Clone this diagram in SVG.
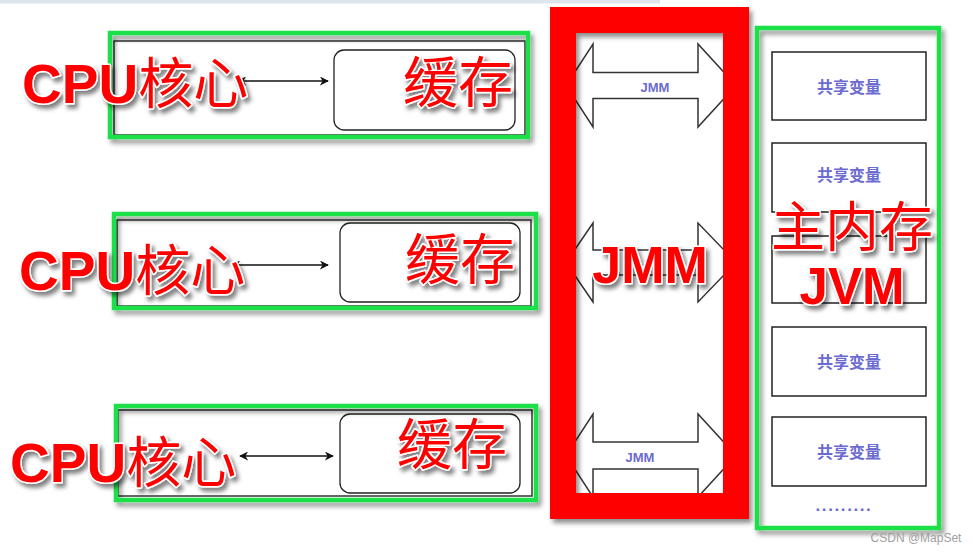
<svg xmlns="http://www.w3.org/2000/svg" width="974" height="554" viewBox="0 0 974 554">
<defs>
  <filter id="sh" x="-10%" y="-10%" width="130%" height="130%">
    <feDropShadow dx="3" dy="4" stdDeviation="2.5" flood-color="#000" flood-opacity="0.45"/>
  </filter>
  <filter id="tsh" x="-10%" y="-20%" width="130%" height="150%">
    <feDropShadow dx="3" dy="4" stdDeviation="2" flood-color="#000" flood-opacity="0.5"/>
  </filter>
  <marker id="ah" viewBox="0 0 10 10" refX="9" refY="5" markerWidth="9" markerHeight="9" orient="auto-start-reverse" markerUnits="userSpaceOnUse">
    <path d="M0,0 L10,5 L0,10 L3,5 Z" fill="#111"/>
  </marker>
  <clipPath id="jclip"><rect x="576" y="33" width="148" height="461"/></clipPath>
</defs>
<style>
  .green{fill:none;stroke:#1fe04a;stroke-width:4.5}
  .inner{fill:#fff;stroke:#333;stroke-width:1.5}
  .rbox{fill:#fff;stroke:#222;stroke-width:1.3}
  .vbox{fill:#fff;stroke:#222;stroke-width:1.5}
  .conn{stroke:#111;stroke-width:1.5;fill:none}
  .blue{font-family:"Noto Sans CJK SC","Liberation Sans",sans-serif;fill:#6b6bd0;font-weight:700;text-anchor:middle;dominant-baseline:central}
  .bluel{font-family:"Liberation Sans",sans-serif;fill:#6b6bd0;font-weight:700;text-anchor:middle;dominant-baseline:central}
  .bigen{font-family:"Liberation Sans",Arial,sans-serif;font-weight:700;fill:#ff0000;stroke:#fff;stroke-width:3;paint-order:stroke;stroke-linejoin:round}
  .bigcn{font-family:"Noto Sans CJK SC",sans-serif;font-weight:400;fill:#ff0000;stroke:#fff;stroke-width:3;paint-order:stroke;stroke-linejoin:round}
  .jarrow{fill:#fff;stroke:#333;stroke-width:1.5}
</style>
<rect x="0" y="0" width="974" height="554" fill="#fff"/>
<rect x="0" y="0" width="660" height="3.5" fill="#dfe5ec"/>

<!-- Row 1 -->
<g id="row1">
  <rect x="114" y="41" width="411" height="94" class="inner"/>
  <rect x="334" y="50" width="181" height="80" rx="10" class="rbox"/>
  <rect x="110" y="33" width="418" height="104" class="green" filter="url(#sh)"/>
</g>
<!-- Row 2 -->
<g id="row2">
  <rect x="117" y="220" width="414" height="86" class="inner"/>
  <rect x="340" y="223" width="180" height="79" rx="10" class="rbox"/>
  <rect x="114" y="214" width="422" height="94" class="green" filter="url(#sh)"/>
</g>
<!-- Row 3 -->
<g id="row3">
  <rect x="118" y="410" width="414" height="86" class="inner"/>
  <rect x="340" y="414" width="180" height="79" rx="10" class="rbox"/>
  <rect x="116" y="406" width="420" height="94" class="green" filter="url(#sh)"/>
</g>

<!-- JMM region -->
<g id="jmm">
  <rect x="576" y="33" width="148" height="461" fill="#fff"/>
  <g clip-path="url(#jclip)">
    <path class="jarrow" d="M566,85.5 L593,44 L593,72.5 L698,72.5 L698,44 L736,85.5 L698,127 L698,98.5 L593,98.5 L593,127 Z"/>
    <path class="jarrow" d="M566,262.5 L593,223 L593,250 L698,250 L698,223 L736,262.5 L698,302 L698,275 L593,275 L593,302 Z"/>
    <path class="jarrow" d="M566,455.5 L593,414 L593,442 L698,442 L698,414 L736,455.5 L698,497 L698,469 L593,469 L593,497 Z"/>
  </g>
  <text x="655" y="87" class="bluel" font-size="13">JMM</text>
  <text x="640" y="457" class="bluel" font-size="13">JMM</text>
  <rect x="563" y="20" width="173" height="486" fill="none" stroke="#ff0000" stroke-width="26" filter="url(#sh)"/>
</g>

<!-- Main memory -->
<g id="mainmem">
  <rect x="757" y="28" width="182" height="500" fill="#fff"/>
  <rect x="772" y="52" width="154" height="68" class="vbox"/>
  <text x="849" y="86" class="blue" font-size="16">共享变量</text>
  <rect x="772" y="143" width="154" height="69" class="vbox"/>
  <text x="849" y="174" class="blue" font-size="16">共享变量</text>
  <rect x="772" y="236" width="154" height="67" class="vbox"/>
  <rect x="772" y="327" width="154" height="69" class="vbox"/>
  <text x="849" y="361" class="blue" font-size="16">共享变量</text>
  <rect x="772" y="417" width="154" height="69" class="vbox"/>
  <text x="849" y="451" class="blue" font-size="16">共享变量</text>
  <text x="844" y="505" class="bluel" font-size="17" letter-spacing="1.6">.........</text>
  <rect x="757" y="28" width="182" height="500" class="green" filter="url(#sh)"/>
</g>

<!-- Connectors -->
<g id="connectors">
  <line x1="238" y1="81" x2="328" y2="81" class="conn" marker-start="url(#ah)" marker-end="url(#ah)"/>
  <line x1="232" y1="265" x2="328" y2="265" class="conn" marker-start="url(#ah)" marker-end="url(#ah)"/>
  <line x1="240" y1="456" x2="333" y2="456" class="conn" marker-start="url(#ah)" marker-end="url(#ah)"/>
</g>

<!-- Red annotations -->
<g id="labels" filter="url(#tsh)">
  <text x="22" y="103" font-size="55"><tspan class="bigen">CPU</tspan><tspan class="bigcn">核心</tspan></text>
  <text x="19" y="290" font-size="55"><tspan class="bigen">CPU</tspan><tspan class="bigcn">核心</tspan></text>
  <text x="10" y="482" font-size="55"><tspan class="bigen">CPU</tspan><tspan class="bigcn">核心</tspan></text>
  <text x="403" y="102" font-size="55" class="bigcn">缓存</text>
  <text x="405" y="279" font-size="55" class="bigcn">缓存</text>
  <text x="397" y="464" font-size="55" class="bigcn">缓存</text>
  <text x="650" y="283" font-size="52" class="bigen" text-anchor="middle">JMM</text>
  <text x="852" y="247" font-size="54" class="bigcn" text-anchor="middle">主内存</text>
  <text x="852" y="304" font-size="51" class="bigen" text-anchor="middle">JVM</text>
</g>

<text x="916" y="542" font-family="Liberation Sans, sans-serif" font-size="12" fill="#a0a0a0" text-anchor="middle">CSDN @MapSet</text>
</svg>
